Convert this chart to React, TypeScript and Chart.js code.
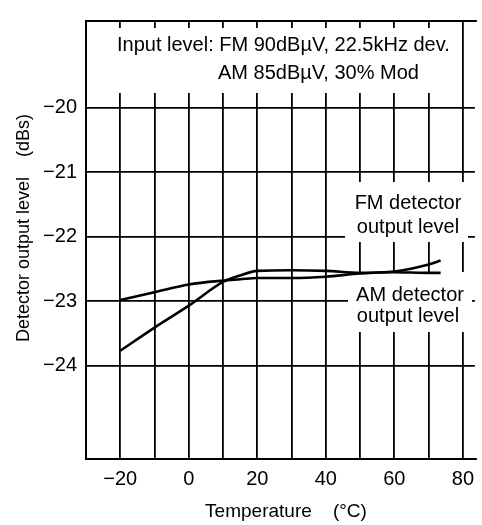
import React, { useEffect, useRef } from "react";
import { Chart, registerables } from "chart.js";

Chart.register(...registerables);

// Temperature (°C)
const temps = [-20, -10, 0, 10, 15, 20, 30, 40, 50, 60, 70, 73.5];
// FM detector output level (dBs)
const fmLevel = [-23.77, -23.41, -23.07, -22.7, -22.6, -22.53, -22.52, -22.53, -22.56, -22.54, -22.43, -22.37];
// AM detector output level (dBs)
const amLevel = [-22.98, -22.86, -22.74, -22.68, -22.66, -22.64, -22.64, -22.62, -22.57, -22.55, -22.56, -22.56];

const xGridTicks = [-20, -10, 0, 10, 20, 30, 40, 50, 60, 70, 80];
const xLabelTicks = [-20, 0, 20, 40, 60, 80];
const yTicks = [-24, -23, -22, -21, -20];

const inputLine1 = "Input level: FM 90dBµV, 22.5kHz dev.";
const inputLine2 = "AM 85dBµV, 30% Mod";
const fmLabel = ["FM detector", "output level"];
const amLabel = ["AM detector", "output level"];
const xTitle = "Temperature    (°C)";
const yTitle = "Detector output level    (dBs)";

const FONT = "'Liberation Sans', Arial, Helvetica, sans-serif";

const fmt = (v: number) => (v < 0 ? "\u2212" + Math.abs(v) : String(v));

const overlayPlugin = {
  id: "overlay",
  beforeDatasetsDraw(chart: any) {
    const ctx = chart.ctx;
    ctx.save();
    ctx.fillStyle = "#fff";
    // white boxes behind annotations
    ctx.fillRect(115, 28, 345, 65);
    ctx.fillRect(345, 182, 123, 60);
    ctx.fillRect(348, 272, 124, 60);
    ctx.fillStyle = "#000";
    ctx.textBaseline = "middle";
    ctx.font = `20px ${FONT}`;
    ctx.textAlign = "left";
    ctx.fillText(inputLine1, 117, 45);
    ctx.fillText(inputLine2, 218, 73);
    ctx.textAlign = "center";
    ctx.fillText(fmLabel[0], 408, 203);
    ctx.fillText(fmLabel[1], 408, 227);
    ctx.fillText(amLabel[0], 410, 295);
    ctx.fillText(amLabel[1], 408, 316);
    ctx.restore();
  },
  afterDraw(chart: any) {
    const ctx = chart.ctx;
    const { left, top, bottom, right } = chart.chartArea;
    ctx.save();
    ctx.strokeStyle = "#000";
    ctx.lineWidth = 2;
    ctx.beginPath();
    ctx.moveTo(right + 2, top);
    ctx.lineTo(left, top);
    ctx.lineTo(left, bottom);
    ctx.lineTo(right + 2, bottom);
    ctx.stroke();
    ctx.fillStyle = "#000";
    ctx.font = `19px ${FONT}`;
    ctx.textAlign = "center";
    ctx.textBaseline = "middle";
    ctx.fillText(xTitle, 286, 512);
    ctx.font = `18px ${FONT}`;
    ctx.translate(24, 228);
    ctx.rotate(-Math.PI / 2);
    ctx.fillText(yTitle, 0, 0);
    ctx.restore();
  },
};

export default function App() {
  const ref = useRef<HTMLCanvasElement>(null);
  useEffect(() => {
    if (!ref.current) return;
    const chart = new Chart(ref.current, {
      type: "line",
      data: {
        datasets: [
          {
            label: "FM detector output level",
            data: temps.map((t, i) => ({ x: t, y: fmLevel[i] })),
            borderColor: "#000",
            borderWidth: 2.6,
            pointRadius: 0,
            cubicInterpolationMode: "monotone",
            fill: false,
          },
          {
            label: "AM detector output level",
            data: temps.map((t, i) => ({ x: t, y: amLevel[i] })),
            borderColor: "#000",
            borderWidth: 2.6,
            pointRadius: 0,
            cubicInterpolationMode: "monotone",
            fill: false,
          },
        ],
      },
      options: {
        animation: false,
        responsive: false,
        layout: { padding: { top: 11, right: 0, left: 0, bottom: 0 } },
        plugins: {
          legend: { display: false },
          tooltip: { enabled: false },
        },
        scales: {
          x: {
            type: "linear",
            min: -30,
            max: 83.5,
            afterBuildTicks: (s: any) => {
              s.ticks = xGridTicks.map((v) => ({ value: v }));
            },
            afterFit: (s: any) => {
              s.height = 66;
            },
            grid: { color: "#000", lineWidth: 1.8, drawTicks: false },
            border: { display: false },
            ticks: {
              padding: 8,
              color: "#000",
              font: { family: FONT, size: 20 },
              maxRotation: 0,
              autoSkip: false,
              callback: (v: any) => (xLabelTicks.includes(Number(v)) ? fmt(Number(v)) : ""),
            },
          },
          y: {
            type: "linear",
            min: -25.45,
            max: -18.65,
            afterBuildTicks: (s: any) => {
              s.ticks = yTicks.map((v) => ({ value: v }));
            },
            afterFit: (s: any) => {
              s.width = 86;
            },
            grid: { color: "#000", lineWidth: 1.8, drawTicks: false },
            border: { display: false },
            ticks: {
              padding: 9,
              color: "#000",
              font: { family: FONT, size: 20 },
              autoSkip: false,
              callback: (v: any) => fmt(Number(v)),
            },
          },
        },
      },
      plugins: [overlayPlugin],
    });
    return () => chart.destroy();
  }, []);
  return (
    <div style={{ position: "absolute", left: 0, top: 0, width: 482, height: 525, background: "#fff" }}>
      <canvas ref={ref} width={482} height={525} style={{ width: 482, height: 525 }} />
    </div>
  );
}
